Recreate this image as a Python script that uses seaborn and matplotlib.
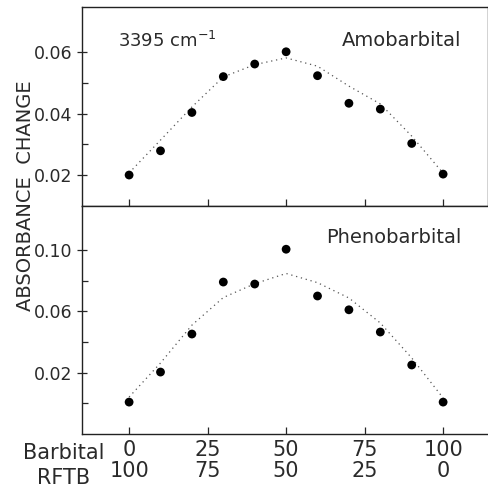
import numpy as np
import pandas as pd
import matplotlib
matplotlib.use("Agg")
import matplotlib.pyplot as plt
import seaborn as sns

# Datos
barbital = [0, 10, 20, 30, 40, 50, 60, 70, 80, 90, 100]
amo_puntos = [0.0200, 0.0279, 0.0404, 0.0521, 0.0562, 0.0602, 0.0524, 0.0434, 0.0415, 0.0303, 0.0203]
amo_curva = [0.0207, 0.0314, 0.0422, 0.0520, 0.0560, 0.0582, 0.0555, 0.0490, 0.0432, 0.0327, 0.0206]
feno_puntos = [0.0008, 0.0204, 0.0452, 0.0791, 0.0778, 0.1005, 0.0700, 0.0610, 0.0465, 0.0250, 0.0008]
feno_curva = [0.0041, 0.0263, 0.0510, 0.0690, 0.0780, 0.0847, 0.0787, 0.0687, 0.0524, 0.0296, 0.0035]

xticks = [0, 25, 50, 75, 100]
rftb = [100, 75, 50, 25, 0]
amo_yticks = [0.02, 0.04, 0.06]
amo_ylabels = ["0.02", "0.04", "0.06"]
feno_yticks = [0.02, 0.06, 0.10]
feno_ylabels = ["0.02", "0.06", "0.10"]

sns.set_style("ticks")
plt.rcParams["font.family"] = ["DejaVu Sans"]
TXT = "#2a2a2a"

fig = plt.figure(figsize=(4.89, 4.90), dpi=100)
ax1 = fig.add_axes([0.1677, 0.5796, 0.8303, 0.4061])
ax2 = fig.add_axes([0.1677, 0.1143, 0.8303, 0.4653])

df_amo = pd.DataFrame({"x": barbital, "p": amo_puntos, "c": amo_curva})
df_feno = pd.DataFrame({"x": barbital, "p": feno_puntos, "c": feno_curva})

for ax, df in [(ax1, df_amo), (ax2, df_feno)]:
    sns.lineplot(data=df, x="x", y="c", ax=ax, color="#555555", lw=0.9,
                 linestyle=(0, (1, 3)))
    sns.scatterplot(data=df, x="x", y="p", ax=ax, color="black", s=40,
                    edgecolor="none", zorder=3)
    ax.set_xlim(-15, 114.3)
    ax.set_xlabel("")
    ax.set_ylabel("")
    for sp in ax.spines.values():
        sp.set_linewidth(1.0)
        sp.set_color("#222222")
    ax.tick_params(which="major", direction="inout", length=7, width=0.9,
                   labelsize=12.5, labelcolor=TXT)
    ax.tick_params(which="minor", direction="in", length=4, width=0.9)
    ax.set_xticks(xticks)

ax1.set_ylim(0.0099, 0.0748)
ax1.set_yticks(amo_yticks)
ax1.set_yticklabels(amo_ylabels)
ax1.set_yticks([0.03, 0.05], minor=True)
ax1.tick_params(axis="x", direction="in", labelbottom=False, length=5)

ax2.set_ylim(-0.02, 0.1287)
ax2.set_yticks(feno_yticks)
ax2.set_yticklabels(feno_ylabels)
ax2.set_yticks([0.0, 0.04, 0.08], minor=True)
ax2.spines["right"].set_visible(False)
ax2.tick_params(axis="x", direction="in", length=5, labelsize=15, pad=4)
ax2.set_xticklabels([f"{b}\n{r}" for b, r in zip(xticks, rftb)],
                    linespacing=1.1)

ax1.text(0.088, 0.83, "3395 cm$^{-1}$", transform=ax1.transAxes, fontsize=13,
         color=TXT, va="center")
ax1.text(0.935, 0.83, "Amobarbital", transform=ax1.transAxes, fontsize=14,
         color=TXT, ha="right", va="center")
ax2.text(0.935, 0.86, "Phenobarbital", transform=ax2.transAxes, fontsize=14,
         color=TXT, ha="right", va="center")

fig.text(0.13, 0.075, "Barbital", fontsize=15, color=TXT,
         ha="center", va="center")
fig.text(0.13, 0.025, "RFTB", fontsize=15, color=TXT,
         ha="center", va="center")
fig.text(0.053, 0.60, "ABSORBANCE  CHANGE", rotation=90, fontsize=14,
         color=TXT, ha="center", va="center")

fig.savefig("out.png", dpi=100)
plt.close(fig)
